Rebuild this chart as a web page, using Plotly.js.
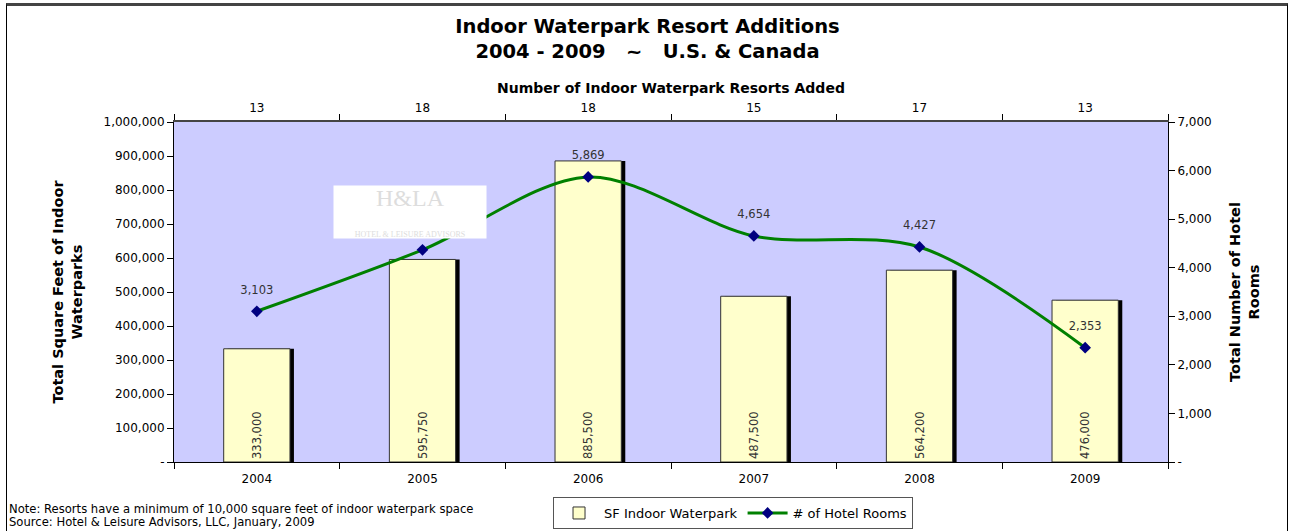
<!DOCTYPE html>
<html>
<head>
<meta charset="utf-8">
<script src="https://cdn.plot.ly/plotly-3.0.1.min.js"></script>
<style>
html,body{margin:0;padding:0;background:#fff;}
#frame{position:absolute;left:6px;top:3px;width:1282px;height:540px;border:1px solid #000;border-top:3px solid #444;box-sizing:border-box;}
#chart{position:absolute;left:0;top:0;width:1295px;height:531px;}
</style>
</head>
<body>
<div id="frame"></div>
<div id="chart"></div>
<script>
const years = ['2004','2005','2006','2007','2008','2009'];
const resortsAdded = ['13','18','18','15','17','13'];
const sqFeet = [333000, 595750, 885500, 487500, 564200, 476000];
const hotelRooms = [3103, 4368, 5869, 4654, 4427, 2353];
const hotelRoomLabels = ['3,103', '', '5,869', '4,654', '4,427', '2,353'];
const sqFeetLabels = ['333,000','595,750','885,500','487,500','564,200','476,000'];
const leftTicks = [0,100000,200000,300000,400000,500000,600000,700000,800000,900000,1000000];
const leftTickText = ['-','100,000','200,000','300,000','400,000','500,000','600,000','700,000','800,000','900,000','1,000,000'];
const rightTicks = [0,1000,2000,3000,4000,5000,6000,7000];
const rightTickText = ['-','1,000','2,000','3,000','4,000','5,000','6,000','7,000'];
const noteLines = [
  'Note: Resorts have a minimum of 10,000 square feet of indoor waterpark space',
  'Source: Hotel & Leisure Advisors, LLC, January, 2009'
];

const FONT = 'Verdana, "DejaVu Sans", sans-serif';

const traces = [
  {
    type: 'bar', x: years, y: sqFeet, xaxis: 'x', yaxis: 'y',
    width: 0.4, offset: -0.176,
    marker: {color: '#000000', line: {width: 0}},
    showlegend: false, hoverinfo: 'skip'
  },
  {
    type: 'bar', name: 'SF Indoor Waterpark', x: years, y: sqFeet, xaxis: 'x', yaxis: 'y',
    width: 0.4, offset: -0.2,
    marker: {color: '#FFFFCC', line: {color: '#333333', width: 1}},
    text: sqFeetLabels, textposition: 'inside', insidetextanchor: 'start', textangle: -90,
    textfont: {family: FONT, size: 11.5, color: '#333333'},
    constraintext: 'none'
  },
  {
    type: 'scatter', mode: 'lines+markers', name: '# of Hotel Rooms',
    x: years, y: hotelRooms, xaxis: 'x', yaxis: 'y2',
    line: {color: '#008000', width: 3, shape: 'spline', smoothing: 0.9},
    marker: {symbol: 'diamond', color: '#000080', size: 9}
  },
  {
    type: 'scatter', mode: 'markers+text', x: years, y: hotelRooms, xaxis: 'x', yaxis: 'y2',
    marker: {opacity: 0, size: 22}, text: hotelRoomLabels, textposition: 'top center',
    textfont: {family: FONT, size: 11.5, color: '#333333'},
    showlegend: false, hoverinfo: 'skip'
  },
  {
    type: 'scatter', mode: 'markers', x: years, y: [0,0,0,0,0,0], xaxis: 'x2', yaxis: 'y',
    marker: {opacity: 0, size: 1}, showlegend: false, hoverinfo: 'skip'
  }
];

const annotations = [];
noteLines.forEach((t, i) => {
  annotations.push({
    xref: 'paper', yref: 'paper', x: -0.168, y: -0.113 - i * 0.038, xanchor: 'left', yanchor: 'top',
    text: t, showarrow: false, align: 'left',
    font: {family: FONT, size: 11.6, color: '#000'}
  });
});
annotations.push({
  xref: 'paper', yref: 'paper', x: 0.2374, y: 0.735, xanchor: 'center', yanchor: 'middle',
  text: 'H&LA<br><span style="font-size:8px">HOTEL & LEISURE ADVISORS</span>',
  showarrow: false, bgcolor: '#FFFFFF', width: 150, height: 50,
  font: {family: '"Liberation Serif", serif', size: 24, color: '#DDDDDD'}
});

const layout = {
  width: 1295, height: 531,
  paper_bgcolor: 'rgba(0,0,0,0)',
  plot_bgcolor: '#CCCCFF',
  margin: {l: 174, r: 127, t: 122, b: 69, autoexpand: false},
  font: {family: FONT, size: 12, color: '#000'},
  barmode: 'overlay',
  showlegend: true,
  title: {
    text: '<b>Indoor Waterpark Resort Additions</b><br><b>2004 - 2009   ~   U.S. & Canada</b>',
    font: {family: FONT, size: 19.5, color: '#000'},
    x: 0.5, xanchor: 'center', yref: 'container', y: 0.938, yanchor: 'top'
  },
  xaxis: {
    type: 'category', categoryorder: 'array', categoryarray: years,
    range: [-0.5, 5.5], tickson: 'boundaries', ticks: 'outside', ticklen: 6,
    ticklabelstandoff: 6,
    tickcolor: '#000', showline: true, linecolor: '#000', linewidth: 1,
    showgrid: false, zeroline: false, fixedrange: true,
    tickfont: {family: FONT, size: 12, color: '#000'}
  },
  xaxis2: {
    type: 'category', categoryorder: 'array', categoryarray: years,
    overlaying: 'x', side: 'top', anchor: 'y',
    range: [-0.5, 5.5], tickson: 'boundaries', ticks: 'outside', ticklen: 6,
    ticklabelstandoff: 3,
    tickvals: years, ticktext: resortsAdded,
    tickcolor: '#000', showline: true, linecolor: '#444', linewidth: 2,
    showgrid: false, zeroline: false,
    tickfont: {family: FONT, size: 12, color: '#000'},
    title: {text: '<b>Number of Indoor Waterpark Resorts Added</b>', font: {family: FONT, size: 14, color: '#000'}, standoff: 4}
  },
  yaxis: {
    range: [0, 1000000], tickvals: leftTicks, ticktext: leftTickText,
    ticks: 'outside', ticklen: 6, tickcolor: '#000',
    showline: true, linecolor: '#000', linewidth: 1,
    showgrid: false, zeroline: false,
    tickfont: {family: FONT, size: 12, color: '#000'},
    title: {text: '<b>Total Square Feet of Indoor<br>Waterparks</b>', font: {family: FONT, size: 14.5, color: '#000'}, standoff: 17}
  },
  yaxis2: {
    range: [0, 7000], tickvals: rightTicks, ticktext: rightTickText,
    overlaying: 'y', side: 'right', anchor: 'x',
    ticks: 'outside', ticklen: 6, tickcolor: '#000',
    showline: true, linecolor: '#000', linewidth: 1,
    showgrid: false, zeroline: false,
    tickfont: {family: FONT, size: 12, color: '#000'},
    title: {text: '<b>Total Number of Hotel<br>Rooms</b>', font: {family: FONT, size: 14.5, color: '#000'}, standoff: 19}
  },
  legend: {
    orientation: 'h', x: 0.5624, xanchor: 'center', y: -0.103, yanchor: 'top',
    bgcolor: '#FFFFFF', bordercolor: '#555', borderwidth: 1,
    font: {family: FONT, size: 13, color: '#000'},
    itemwidth: 40, traceorder: 'normal', tracegroupgap: 0
  },
  annotations: annotations
};

Plotly.newPlot('chart', traces, layout, {displayModeBar: false, staticPlot: true});
</script>
</body>
</html>
